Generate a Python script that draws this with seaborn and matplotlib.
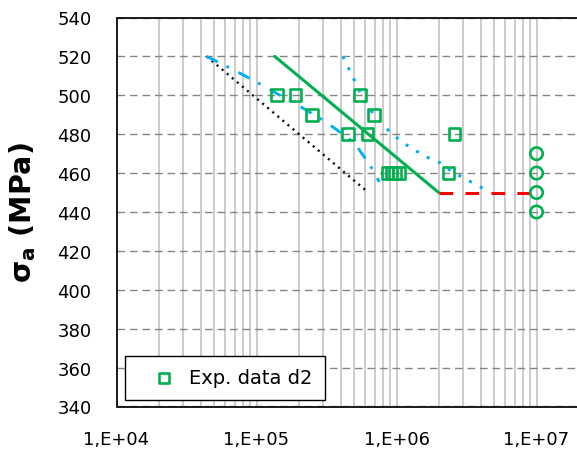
import numpy as np
import pandas as pd
import matplotlib
matplotlib.use("Agg")
import matplotlib.pyplot as plt
import seaborn as sns
from matplotlib.ticker import LogLocator, FuncFormatter, NullFormatter

# Experimental fatigue results, specimen set d2 (cycles to failure, stress amplitude)
exp_cycles = [1.4e5, 1.9e5, 2.5e5, 4.5e5, 5.5e5, 6.2e5, 6.9e5,
              8.6e5, 9.2e5, 9.8e5, 1.04e6, 2.35e6, 2.6e6]
exp_stress = [500, 500, 490, 480, 500, 480, 490,
              460, 460, 460, 460, 460, 480]

# Run-outs at 1e7 cycles
runout_cycles = [1e7, 1e7, 1e7, 1e7]
runout_stress = [470, 460, 450, 440]

# Design S-N line and endurance limit
design_cycles = [1.35e5, 2e6]
design_stress = [520, 450]
limit_cycles = [2e6, 1e7]
limit_stress = [450, 450]

# Lower bound line
lower_cycles = [4.4e4, 6.3e5]
lower_stress = [520, 450]

# Model curve A (dash-dot)
model_a_cycles = [4.4e4, 6.4e4, 9.5e4, 1.43e5, 2.08e5, 3.08e5, 4.53e5,
                  5.25e5, 5.96e5, 6.82e5, 7.53e5]
model_a_stress = [520, 514.2, 507.7, 500.5, 494.0, 486.6, 478.0,
                  473.4, 467.7, 461.4, 455.4]

# Model curve B (dotted)
model_b_cycles = [4.13e5, 4.6e5, 5.64e5, 6.93e5, 8.9e5, 1.08e6, 1.33e6,
                  1.64e6, 2.05e6, 2.48e6, 3.17e6, 3.84e6, 4.51e6]
model_b_stress = [520, 513.2, 499.7, 489.7, 481.4, 476.3, 472.0,
                  468.3, 465.2, 460.8, 456.6, 453.6, 450.4]

y_ticks = list(range(340, 541, 20))

sns.set_style("white")
plt.rcParams["font.family"] = ["DejaVu Sans"]
plt.rcParams["mathtext.default"] = "bf"
plt.rcParams["text.color"] = "black"
plt.rcParams["axes.labelcolor"] = "black"
plt.rcParams["xtick.labelcolor"] = "black"
plt.rcParams["ytick.labelcolor"] = "black"

fig = plt.figure(figsize=(5.77, 4.56), dpi=100)
W, H = 577, 456
ax = fig.add_axes([116.5 / W, 1 - 407.5 / H, (577 - 116.5) / W, (407.5 - 18.5) / H])

GREEN = "#00B050"
BLUE = "#00B0F0"
RED = "#FF0000"

ax.set_xscale("log")

def curve(x, y, **kw):
    df = pd.DataFrame({"N": x, "S": y})
    sns.lineplot(data=df, x="N", y="S", ax=ax, sort=False, estimator=None, **kw)

curve(lower_cycles, lower_stress, color="#111111", lw=1.7,
      linestyle=(0, (0.9, 1.9)))
curve(model_a_cycles, model_a_stress, color=BLUE, lw=2.1,
      linestyle=(0, (4.3, 3.3, 1.0, 3.6)))
curve(model_b_cycles, model_b_stress, color=BLUE, lw=2.2,
      linestyle=(0, (1, 3)))
curve(design_cycles, design_stress, color=GREEN, lw=2.2)
curve(limit_cycles, limit_stress, color=RED, lw=2.2,
      linestyle=(0, (4.5, 4)))

sns.scatterplot(x=exp_cycles, y=exp_stress, ax=ax, marker="s", s=70,
                facecolor="none", edgecolor=GREEN, linewidth=1.9,
                label="Exp. data d2", zorder=5)
sns.scatterplot(x=runout_cycles, y=runout_stress, ax=ax, marker="o", s=80,
                facecolor="none", edgecolor=GREEN, linewidth=1.9,
                zorder=5, legend=False)

ax.set_xlim(1e4, 1.945e7)
ax.set_ylim(340, 540)

ax.xaxis.set_major_locator(LogLocator(base=10, numticks=10))
ax.xaxis.set_minor_locator(LogLocator(base=10, subs=np.arange(2, 10), numticks=100))
ax.xaxis.set_major_formatter(FuncFormatter(lambda v, p: f"1,E+{int(round(np.log10(v))):02d}"))
ax.xaxis.set_minor_formatter(NullFormatter())
ax.set_yticks(y_ticks)

ax.set_axisbelow(True)
ax.grid(True, which="both", axis="x", color="#BFBFBF", lw=1.1, linestyle="-")
ax.grid(True, which="major", axis="y", color="#858585", lw=1.0,
        linestyle=(0, (5.5, 3.5)))

ax.tick_params(axis="x", which="both", direction="inout", length=6, width=1,
               color="#444444", labelsize=13, pad=14, labelcolor="black")
ax.tick_params(axis="y", which="major", direction="out", length=7, width=1,
               color="#444444", labelsize=13, pad=11, labelcolor="black")

for side in ["left", "bottom", "top"]:
    ax.spines[side].set_color("#1a1a1a")
    ax.spines[side].set_linewidth(1.4)
ax.spines["right"].set_visible(False)

ax.set_xlabel("")
ax.set_ylabel("σ$_a$ (MPa)", fontsize=20.5, fontweight="bold", labelpad=14,
              color="black")

leg = ax.legend(loc="lower left", bbox_to_anchor=(0.018, 0.017), borderaxespad=0,
                fontsize=14, frameon=True, fancybox=False, framealpha=1,
                edgecolor="black", handlelength=2.7, handletextpad=-0.07,
                borderpad=0.65, markerscale=0.85)
leg.get_frame().set_linewidth(1.0)
for t in leg.get_texts():
    t.set_color("black")

fig.savefig("out.png", dpi=100)
